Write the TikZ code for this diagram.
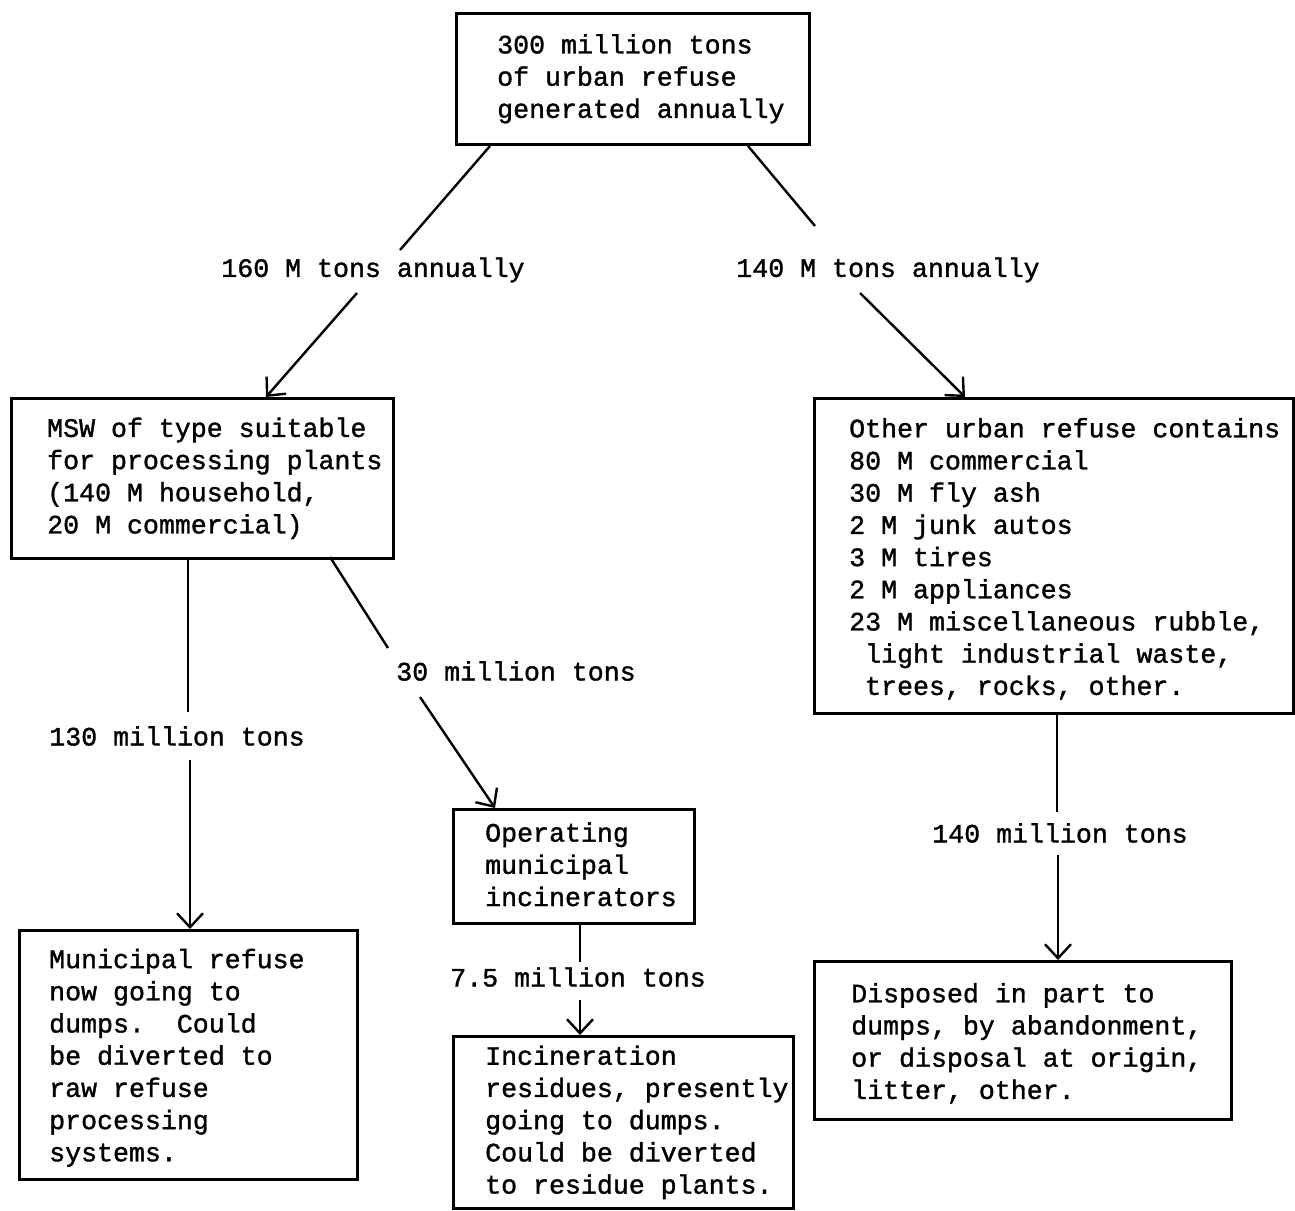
\documentclass[tikz,border=0pt]{standalone}
\usepackage{fontspec}
\newfontfamily\typewriter{Liberation Mono}[FakeBold=1.3]
\usetikzlibrary{arrows.meta}
\frenchspacing

\begin{document}
\begin{tikzpicture}[x=1pt,y=-1pt,
  box/.style={draw, line width=2.6pt, rectangle, inner sep=0pt, anchor=north west},
  body/.style={anchor=west, align=left, inner sep=0pt,
    font=\typewriter\fontsize{26.6pt}{32.2pt}\selectfont},
  flowlabel/.style={inner sep=0pt, font=\typewriter\fontsize{26.6pt}{32.2pt}\selectfont},
  link/.style={line width=2.4pt},
  flow/.style={link, -{Straight Barb[length=14pt,width=26pt,line width=2.4pt]}}
]
\useasboundingbox (0,0) rectangle (1295,1210);

% boxes
\node[box, minimum width=353pt, minimum height=131pt] (top) at (455,12) {};
\node[body] (toptext) at ([xshift=42pt]top.west)
  {300 million tons\\of urban refuse\\generated annually};

\node[box, minimum width=382pt, minimum height=160pt] (msw) at (10,397) {};
\node[body] (mswtext) at ([xshift=37pt]msw.west)
  {MSW of type suitable\\for processing plants\\(140 M household,\\20 M commercial)};

\node[box, minimum width=479pt, minimum height=315pt] (other) at (813,397) {};
\node[body] (othertext) at ([xshift=36pt,yshift=-3pt]other.west)
  {Other urban refuse contains\\80 M commercial\\30 M fly ash\\2 M junk autos\\3 M tires\\2 M appliances\\23 M miscellaneous rubble,\\\hspace*{0.6em}light industrial waste,\\\hspace*{0.6em}trees, rocks, other.};

\node[box, minimum width=241pt, minimum height=114pt] (inc) at (452,808) {};
\node[body] (inctext) at ([xshift=33pt,yshift=2pt]inc.west)
  {Operating\\municipal\\incinerators};

\node[box, minimum width=338pt, minimum height=249pt] (muni) at (18,929) {};
\node[body] (munitext) at ([xshift=31pt,yshift=-3pt]muni.west)
  {Municipal refuse\\now going to\\dumps.\hspace{1.2em}Could\\be diverted to\\raw refuse\\processing\\systems.};

\node[box, minimum width=340pt, minimum height=172pt] (res) at (452,1035) {};
\node[body] (restext) at ([xshift=33pt]res.west)
  {Incineration\\residues, presently\\going to dumps.\\Could be diverted\\to residue plants.};

\node[box, minimum width=417pt, minimum height=158pt] (disp) at (813,960) {};
\node[body] (disptext) at ([xshift=38pt,yshift=-3pt]disp.west)
  {Disposed in part to\\dumps, by abandonment,\\or disposal at origin,\\litter, other.};

% flow labels
\node[flowlabel] (l160) at (373,270) {160 M tons annually};
\node[flowlabel] (l140a) at (888,270) {140 M tons annually};
\node[flowlabel] (l130) at (177,736) {130 million tons};
\node[flowlabel] (l30) at (516,671) {30 million tons};
\node[flowlabel] (l75) at (578,977) {7.5 million tons};
\node[flowlabel] (l140b) at (1060,833) {140 million tons};

% connector end points
\coordinate (a1) at (490,146);  \coordinate (a2) at (400,250);
\coordinate (a3) at (357,293);  \coordinate (a4) at (266,397);
\coordinate (b1) at (748,146);  \coordinate (b2) at (815,226);
\coordinate (b3) at (860,293);  \coordinate (b4) at (965,397);
\coordinate (c1) at (188,557);  \coordinate (c2) at (188,712);
\coordinate (c3) at (190,760);  \coordinate (c4) at (190,929);
\coordinate (d1) at (330,557);  \coordinate (d2) at (388,648);
\coordinate (d3) at (420,697);  \coordinate (d4) at (495,808);
\coordinate (e1) at (580,922);  \coordinate (e2) at (580,962);
\coordinate (e3) at (580,1000); \coordinate (e4) at (580,1035);
\coordinate (f1) at (1057,712); \coordinate (f2) at (1057,812);
\coordinate (f3) at (1058,855); \coordinate (f4) at (1058,960);

% connectors
\draw[link] (a1) -- (a2);  \draw[flow] (a3) -- (a4);
\draw[link] (b1) -- (b2);  \draw[flow] (b3) -- (b4);
\draw[link] (c1) -- (c2);  \draw[flow] (c3) -- (c4);
\draw[link] (d1) -- (d2);  \draw[flow] (d3) -- (d4);
\draw[link] (e1) -- (e2);  \draw[flow] (e3) -- (e4);
\draw[link] (f1) -- (f2);  \draw[flow] (f3) -- (f4);
\end{tikzpicture}
\end{document}
